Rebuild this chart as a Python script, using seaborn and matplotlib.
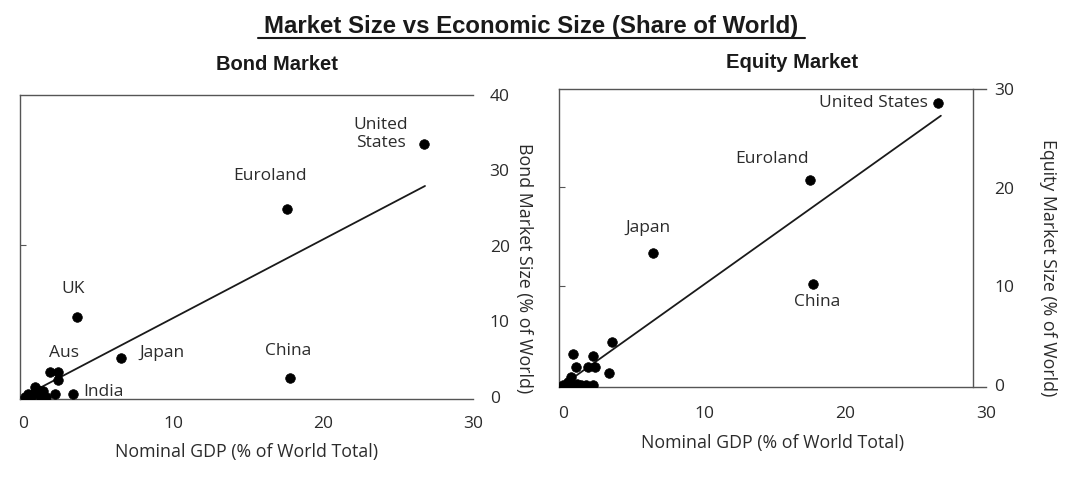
import matplotlib
matplotlib.use('Agg')
import matplotlib.pyplot as plt
import seaborn as sns
import pandas as pd
from matplotlib.lines import Line2D

# ---------------- data ----------------
bond_country = ["United States", "Euroland", "UK", "Japan", "China", "India", "Aus",
                "", "", "", "", "", "", "", "", "", "", "", ""]
bond_gdp = [26.7, 17.6, 3.6, 6.5, 17.8, 3.3, 1.8, 2.3, 2.3, 2.1, 0.8, 1.3, 1.1, 0.5, 0.1, 0.7, 0.3, 1.5, 1.0]
bond_size = [33.4, 24.7, 10.5, 5.1, 2.5, 0.3, 3.2, 3.3, 2.2, 0.3, 1.3, 0.7, 0.1, 0.0, 0.0, 0.5, 0.4, 0.0, 0.9]
bond_fit_x = [0, 26.8]
bond_fit_y = [0, 27.8]

eq_country = ["United States", "Euroland", "Japan", "China",
              "", "", "", "", "", "", "", "", "", "", "", "", "", "", "", ""]
eq_gdp = [26.6, 17.5, 6.4, 17.7, 3.5, 0.7, 2.1, 0.9, 1.8, 2.3, 3.3, 0.6, 0.35, 1.3, 1.6, 2.1, 0.0, 0.5, 1.0, 0.3]
eq_size = [28.5, 20.7, 13.3, 10.2, 4.3, 3.1, 2.9, 1.8, 1.8, 1.8, 1.2, 0.8, 0.3, 0.0, 0.0, 0.0, 0.0, 0.0, 0.1, 0.1]
eq_fit_x = [0, 26.8]
eq_fit_y = [0, 27.2]

x_ticks = [0, 10, 20, 30]
bond_yticks = [0, 10, 20, 30, 40]
eq_yticks = [0, 10, 20, 30]

title = "Market Size vs Economic Size (Share of World)"
xlabel = "Nominal GDP (% of World Total)"

# ---------------- style ----------------
sns.set_style("white")
plt.rcParams['font.family'] = ['Open Sans', 'DejaVu Sans']
TXT = "#2b2b2b"
SPN = "#555555"
TICK_FS = 12.5
LAB_FS = 12.8
ANN_FS = 12.5

fig = plt.figure(figsize=(10.8, 4.88), dpi=100)
W, H = 1080, 488

def px_axes(l, t, r, b):
    return fig.add_axes([l / W, 1 - b / H, (r - l) / W, (b - t) / H])

bond_df = pd.DataFrame({"gdp": bond_gdp, "size": bond_size, "name": bond_country})
eq_df = pd.DataFrame({"gdp": eq_gdp, "size": eq_size, "name": eq_country})

def style_axes(ax, xlim, ylim, left_ticks, right_ticks, right_spine_pos, ylab,
               ypad, ylabpad, xpad, ylab_y):
    ax.set_xlim(*xlim)
    ax.set_ylim(*ylim)
    for s in ax.spines.values():
        s.set_color(SPN)
        s.set_linewidth(1.0)
    ax.set_xticks(x_ticks)
    ax.tick_params(axis='x', direction='in', length=4, color=SPN, labelsize=TICK_FS,
                   labelcolor=TXT, pad=xpad)
    ax.set_yticks(left_ticks)
    ax.tick_params(axis='y', direction='in', length=4, color=SPN, left=True,
                   labelleft=False, right=False)
    ax.set_xlabel(xlabel, fontsize=LAB_FS, color=TXT, labelpad=8)
    ax.set_ylabel("")
    ax2 = ax.twinx()
    ax2.set_ylim(*ylim)
    ax2.set_yticks(right_ticks)
    ax2.tick_params(axis='y', length=0, labelsize=TICK_FS, labelcolor=TXT, pad=ypad)
    for k in ['top', 'left', 'bottom']:
        ax2.spines[k].set_visible(False)
    ax.spines['right'].set_visible(False)
    if right_spine_pos is None:
        ax2.spines['right'].set_visible(False)
    else:
        ax2.spines['right'].set_position(('data', right_spine_pos))
        ax2.spines['right'].set_color(SPN)
        ax2.spines['right'].set_linewidth(1.0)
    ax2.set_ylabel(ylab, rotation=270, fontsize=LAB_FS, color=TXT, labelpad=ylabpad)
    ax2.yaxis.label.set_y(ylab_y)
    ax2.grid(False)
    return ax2

# ---------------- Bond market ----------------
ax1 = px_axes(20, 95, 473, 399)
sns.lineplot(x=bond_fit_x, y=bond_fit_y, ax=ax1, color="#1a1a1a", linewidth=1.3)
sns.scatterplot(data=bond_df, x="gdp", y="size", ax=ax1, color="black", s=48,
                edgecolor="black", linewidth=0.5, zorder=3)
style_axes(ax1, (-0.2, 30), (-0.3, 39.8), [20], bond_yticks, None,
           "Bond Market Size (% of World)", 12, 17, 12, 0.43)

bond_offsets = {
    "United States": (-31, 7, "United\nStates"),
    "Euroland": (-12, 24, "Euroland"),
    "UK": (-3, 20, "UK"),
    "Japan": (30, 4, "Japan"),
    "China": (-1, 19, "China"),
    "India": (22, 2, "India"),
    "Aus": (10, 14, "Aus"),
}
for _, row in bond_df.iterrows():
    if row["name"] in bond_offsets:
        dx, dy, lab = bond_offsets[row["name"]]
        ax1.annotate(lab, (row["gdp"], row["size"]), xytext=(dx, dy),
                     textcoords="offset points", ha="center", va="center",
                     fontsize=ANN_FS, color=TXT, linespacing=1.2)

# ---------------- Equity market ----------------
ax3 = px_axes(559, 89, 986, 387)
sns.lineplot(x=eq_fit_x, y=eq_fit_y, ax=ax3, color="#1a1a1a", linewidth=1.3)
sns.scatterplot(data=eq_df, x="gdp", y="size", ax=ax3, color="black", s=48,
                edgecolor="black", linewidth=0.5, zorder=3)
style_axes(ax3, (-0.28, 30), (-0.2, 29.9), [10, 20], eq_yticks, 29.1,
           "Equity Market Size (% of World)", 15, 31, 14, 0.40)

eq_offsets = {
    "United States": (-7, 0, "United States", "right"),
    "Euroland": (-27, 15, "Euroland", "center"),
    "Japan": (-4, 18, "Japan", "center"),
    "China": (3, -13, "China", "center"),
}
for _, row in eq_df.iterrows():
    if row["name"] in eq_offsets:
        dx, dy, lab, ha = eq_offsets[row["name"]]
        ax3.annotate(lab, (row["gdp"], row["size"]), xytext=(dx, dy),
                     textcoords="offset points", ha=ha, va="center",
                     fontsize=ANN_FS, color=TXT)

# ---------------- titles ----------------
BOLD = ['Liberation Sans', 'DejaVu Sans']
fig.text(531 / W, 1 - 27 / H, title, ha="center", va="center", fontsize=17.3,
         fontweight="bold", color="#1a1a1a", family=BOLD)
fig.add_artist(Line2D([258 / W, 805 / W], [1 - 38 / H, 1 - 38 / H],
                      color="#1a1a1a", linewidth=1.5, transform=fig.transFigure))
fig.text(277 / W, 1 - 65 / H, "Bond Market", ha="center", va="center", fontsize=14.5,
         fontweight="bold", color="#1a1a1a", family=BOLD)
fig.text(792 / W, 1 - 62 / H, "Equity Market", ha="center", va="center", fontsize=14.5,
         fontweight="bold", color="#1a1a1a", family=BOLD)

fig.savefig("out.png", dpi=100, facecolor="white")
